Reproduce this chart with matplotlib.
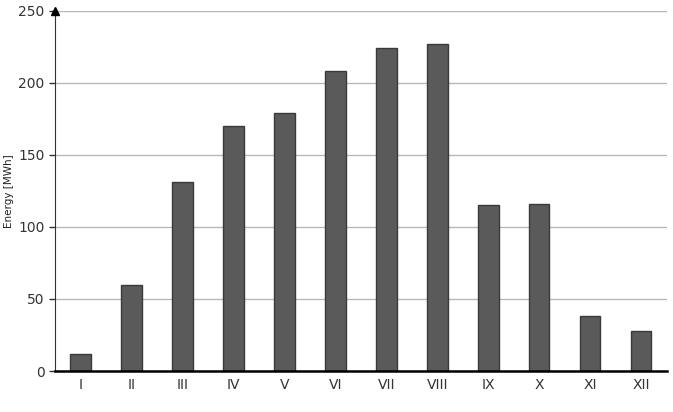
import matplotlib.pyplot as plt
import numpy as np

months = ["I", "II", "III", "IV", "V", "VI", "VII", "VIII", "IX", "X", "XI", "XII"]
energy = [12, 60, 131, 170, 179, 208, 224, 227, 115, 116, 38, 28]
yticks = [0, 50, 100, 150, 200, 250]

fig = plt.figure(figsize=(6.73, 4.12), dpi=100)
ax = fig.add_axes([0.0817, 0.0995, 0.909, 0.874])

x = np.arange(len(months))
ax.bar(x, energy, width=0.4, color="#5a5a5a", edgecolor="#3a3a3a", linewidth=1, zorder=3)

ax.set_xlim(-0.5, len(months) - 0.5)
ax.set_ylim(0, 250)
ax.set_yticks(yticks)
ax.set_xticks(x)
ax.set_xticklabels(months)
ax.yaxis.grid(True, color="#b8b8b8", linewidth=1, zorder=0)

for s in ["top", "right"]:
    ax.spines[s].set_visible(False)
ax.spines["left"].set_color("#333333")
ax.spines["bottom"].set_color("black")
ax.spines["bottom"].set_linewidth(1.8)
ax.spines["bottom"].set_zorder(4)

# arrow on top of y axis
ax.plot(0, 1, "^k", markersize=6, transform=ax.transAxes, clip_on=False, zorder=5)

ax.tick_params(axis="x", length=0, pad=5, labelsize=10, colors="#333333")
ax.tick_params(axis="y", length=4, width=1, labelsize=10, colors="#333333")
ax.set_ylabel("Energy [MWh]", fontsize=7.5, color="#222222", labelpad=3)

fig.savefig("out.png", dpi=100)
